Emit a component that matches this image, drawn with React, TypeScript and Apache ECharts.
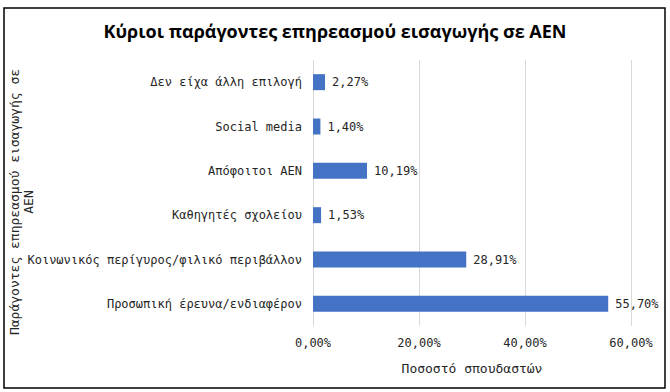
import React, { useEffect, useRef } from "react";
import * as echarts from "echarts";

const categories = [
  "Δεν είχα άλλη επιλογή",
  "Social media",
  "Απόφοιτοι ΑΕΝ",
  "Καθηγητές σχολείου",
  "Κοινωνικός περίγυρος/φιλικό περιβάλλον",
  "Προσωπική έρευνα/ενδιαφέρον",
];
const values = [2.27, 1.4, 10.19, 1.53, 28.91, 55.7];
const xTicks = [0, 20, 40, 60];

const titleText = "Κύριοι παράγοντες επηρεασμού εισαγωγής σε ΑΕΝ";
const yAxisTitle = "Παράγοντες επηρεασμού εισαγωγής σε\nΑΕΝ";
const xAxisTitle = "Ποσοστό σπουδαστών";

const mono = "DejaVu Sans Mono";
const textColor = "#262626";
const fmt = (v: number) => v.toFixed(2).replace(".", ",") + "%";

export default function App() {
  const ref = useRef<HTMLDivElement>(null);
  useEffect(() => {
    if (!ref.current) return;
    const chart = echarts.init(ref.current, null, { renderer: "svg" });
    chart.setOption({
      animation: false,
      backgroundColor: "#ffffff",
      title: {
        text: titleText,
        left: "center",
        top: 17,
        textStyle: {
          fontFamily: "Open Sans",
          fontWeight: "bold",
          fontSize: 18,
          color: "#000000",
        },
      },
      graphic: [
        {
          type: "rect",
          shape: { x: 4, y: 8, width: 661, height: 380 },
          style: { fill: "none", stroke: "#000000", lineWidth: 1.5 },
          silent: true,
        },
        {
          type: "text",
          x: 21,
          y: 202,
          rotation: Math.PI / 2,
          style: {
            text: yAxisTitle,
            fontFamily: mono,
            fontSize: 13,
            lineHeight: 14,
            fill: textColor,
            align: "center",
            verticalAlign: "middle",
          },
        },
      ],
      grid: { left: 313, right: 39, top: 60, bottom: 66, containLabel: false },
      xAxis: {
        type: "value",
        min: xTicks[0],
        max: xTicks[xTicks.length - 1],
        interval: 20,
        name: xAxisTitle,
        nameLocation: "middle",
        nameGap: 36,
        nameTextStyle: { fontFamily: mono, fontSize: 13, color: textColor },
        axisLine: { show: false },
        axisTick: { show: false },
        axisLabel: {
          fontFamily: mono,
          fontSize: 12,
          color: textColor,
          margin: 11,
          formatter: (v: number) => fmt(v),
        },
        splitLine: { show: true, lineStyle: { color: "#d9d9d9", width: 1 } },
      },
      yAxis: {
        type: "category",
        data: categories,
        inverse: true,
        axisLine: { show: false },
        axisTick: { show: false },
        axisLabel: {
          fontFamily: mono,
          fontSize: 12,
          color: textColor,
          margin: 11,
        },
      },
      series: [
        {
          type: "bar",
          data: values,
          barWidth: 16,
          itemStyle: { color: "#4472C4" },
          label: {
            show: true,
            position: "right",
            distance: 7,
            fontFamily: mono,
            fontSize: 12,
            color: textColor,
            formatter: (p: any) => fmt(p.value),
          },
        },
      ],
    });
    return () => chart.dispose();
  }, []);
  return (
    <div
      ref={ref}
      style={{ position: "fixed", left: 0, top: 0, width: 670, height: 392 }}
    />
  );
}
